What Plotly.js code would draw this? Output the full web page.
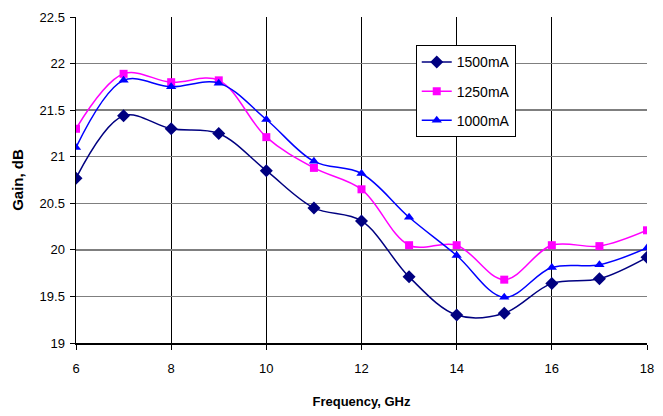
<!DOCTYPE html>
<html>
<head>
<meta charset="utf-8">
<script src="https://cdn.plot.ly/plotly-3.0.1.min.js"></script>
<style>html,body{margin:0;padding:0;background:#fff;}#chart{width:663px;height:416px;}</style>
</head>
<body>
<div id="chart"></div>
<script>
const freq = [6, 7, 8, 9, 10, 11, 12, 13, 14, 15, 16, 17, 18];
const gain1500 = [20.77, 21.44, 21.30, 21.25, 20.85, 20.45, 20.31, 19.71, 19.30, 19.32, 19.64, 19.69, 19.92];
const gain1250 = [21.30, 21.89, 21.80, 21.82, 21.21, 20.88, 20.65, 20.05, 20.05, 19.68, 20.05, 20.04, 20.21];
const gain1000 = [21.10, 21.82, 21.75, 21.79, 21.40, 20.95, 20.82, 20.35, 19.94, 19.49, 19.81, 19.84, 20.02];
const seriesNames = ["1500mA", "1250mA", "1000mA"];
const xTicks = [6, 8, 10, 12, 14, 16, 18];
const yTicks = [19, 19.5, 20, 20.5, 21, 21.5, 22, 22.5];

function tr(y, name, color, symbol, size, grp) {
  return {
    x: freq, y: y, name: name, type: 'scatter', mode: 'lines+markers',
    legendgroup: grp,
    line: {color: color, width: 1.5, shape: 'spline', smoothing: 1},
    marker: {color: color, symbol: symbol, size: size}
  };
}
const data = [
  tr(gain1500, seriesNames[0], '#000080', 'diamond', 10, 'a'),
  tr(gain1250, seriesNames[1], '#FF00FF', 'square', 8, 'b'),
  tr(gain1000, seriesNames[2], '#0000FF', 'triangle-up', 9, 'c')
];
const layout = {
  width: 663, height: 416,
  margin: {l: 76, r: 16, t: 17, b: 73},
  paper_bgcolor: '#fff', plot_bgcolor: '#fff',
  font: {family: 'Liberation Sans, Arial, sans-serif', size: 13, color: '#000'},
  showlegend: true,
  legend: {
    x: 0.595, y: 0.913, xanchor: 'left', yanchor: 'top',
    bordercolor: '#000', borderwidth: 1, bgcolor: '#fff',
    font: {size: 14, family: 'Liberation Sans, Arial, sans-serif', color: '#000'},
    traceorder: 'grouped', tracegroupgap: 8
  },
  xaxis: {
    range: [6, 18], tickvals: xTicks, ticktext: xTicks.map(String),
    showgrid: true, gridcolor: '#000', gridwidth: 1,
    showline: true, linecolor: '#000', linewidth: 1.5,
    ticks: 'outside', ticklen: 5, tickcolor: '#000',
    ticklabelstandoff: 8,
    zeroline: false,
    tickfont: {size: 13},
    title: {text: '<b>Frequency, GHz</b>', font: {size: 13}, standoff: 22}
  },
  yaxis: {
    range: [19, 22.5], tickvals: yTicks, ticktext: yTicks.map(String),
    showgrid: true, gridcolor: '#7f7f7f', gridwidth: 1.5,
    showline: true, linecolor: '#000', linewidth: 1.5,
    ticks: 'outside', ticklen: 5, tickcolor: '#000',
    ticklabelstandoff: 2,
    zeroline: false,
    tickfont: {size: 13},
    title: {text: '<b>Gain, dB</b>', font: {size: 15}, standoff: 12}
  }
};
Plotly.newPlot('chart', data, layout, {displayModeBar: false, staticPlot: true});
</script>
</body>
</html>
